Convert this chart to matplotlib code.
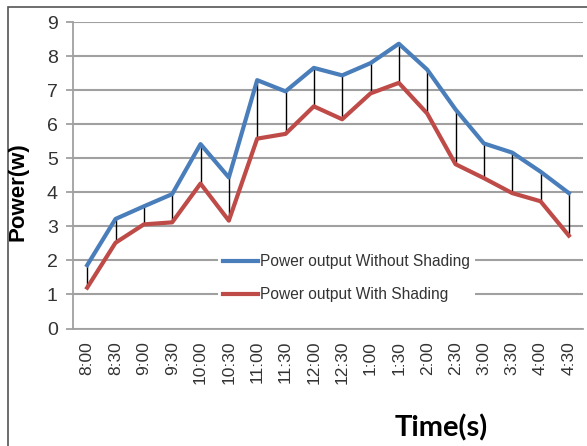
import numpy as np
import matplotlib.pyplot as plt
from matplotlib.patches import Rectangle

plt.rcParams['font.family'] = ['Liberation Sans', 'DejaVu Sans']

times = ['8:00', '8:30', '9:00', '9:30', '10:00', '10:30', '11:00', '11:30', '12:00',
         '12:30', '1:00', '1:30', '2:00', '2:30', '3:00', '3:30', '4:00', '4:30']
no_shading = [1.86, 3.22, 3.59, 3.95, 5.42, 4.44, 7.30, 6.97, 7.66,
              7.44, 7.80, 8.37, 7.61, 6.44, 5.44, 5.17, 4.61, 3.98]
with_shading = [1.20, 2.52, 3.06, 3.12, 4.26, 3.17, 5.58, 5.72, 6.53,
                6.15, 6.91, 7.22, 6.32, 4.83, 4.42, 3.98, 3.74, 2.73]

W, H = 587, 446
fig = plt.figure(figsize=(W / 100, H / 100), dpi=100)
ax = fig.add_axes([73 / W, 1 - 328.5 / H, (583 - 73) / W, (328.5 - 22.3) / H])

x = np.arange(len(times))
# drop lines between the two series
ax.vlines(x, with_shading, no_shading, color='black', lw=1, zorder=2)
ax.plot(x, no_shading, color='#4a7ebb', lw=3, label='Power output Without Shading', zorder=3)
ax.plot(x, with_shading, color='#be4b48', lw=3, label='Power output With Shading', zorder=3)

ax.set_xlim(-0.5, len(times) - 0.5)
ax.set_ylim(0, 9)
ax.set_yticks(range(10))
ax.set_xticks(x)
ax.set_xticklabels(times, rotation=90, fontsize=12.5, color='#333333')
ax.tick_params(axis='y', labelsize=14, labelcolor='#333333', length=5, color='#a0a0a0',
               width=1.3, pad=6)
ax.tick_params(axis='x', length=0, pad=9)
ax.grid(axis='y', color='#a0a0a0', lw=1.5)
ax.set_axisbelow(True)
for s in ['top', 'right']:
    ax.spines[s].set_visible(False)
for s in ['left', 'bottom']:
    ax.spines[s].set_color('#a0a0a0')
    ax.spines[s].set_linewidth(1.3)

leg = ax.legend(loc='upper left', bbox_to_anchor=((218 - 73) / 510, 1 - (249 - 22.3) / 306.2),
                fontsize=11.2, frameon=True, fancybox=False, handlelength=2.2,
                handletextpad=0.15, labelspacing=1.15, borderaxespad=0, borderpad=0.35)
leg.get_frame().set_facecolor('white')
leg.get_frame().set_edgecolor('none')
leg.get_frame().set_alpha(1)
for t in leg.get_texts():
    t.set_color('#333333')

fig.text(18 / W, 1 - 192 / H, 'Power(w)', rotation=90, fontsize=16, fontweight='bold',
         ha='center', va='center')
fig.text(441 / W, 1 - 428 / H, 'Time(s)', fontsize=21, fontweight='bold',
         ha='center', va='center', family=['Lato', 'DejaVu Sans'])

fig.patches.append(Rectangle((8 / W, -0.1), 1.2, 1 - 7 / H + 0.1, transform=fig.transFigure,
                             fill=False, edgecolor='#555555', lw=1.2))

fig.savefig('out.png', dpi=100)
